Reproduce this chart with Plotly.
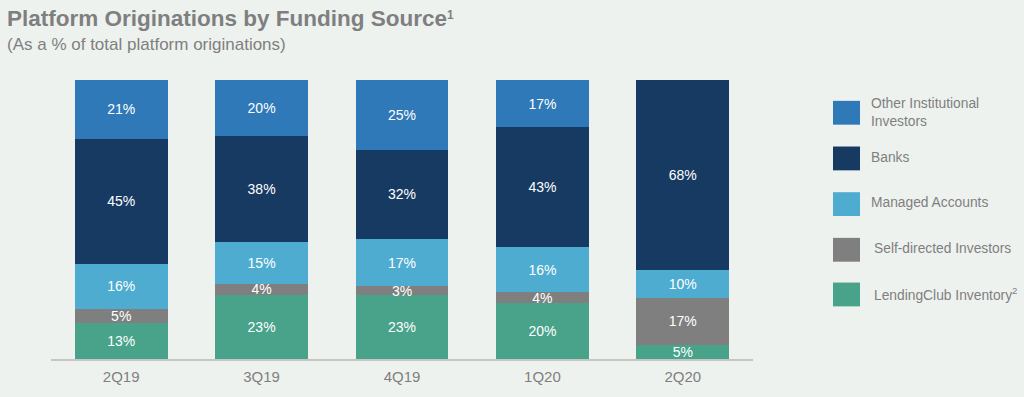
import plotly.graph_objects as go

categories = ["2Q19", "3Q19", "4Q19", "1Q20", "2Q20"]
lendingclub = [13, 23, 23, 20, 5]
self_directed = [5, 4, 3, 4, 17]
managed = [16, 15, 17, 16, 10]
banks = [45, 38, 32, 43, 68]
other_inst = [21, 20, 25, 17, None]

series_names = ["LendingClub Inventory", "Self-directed Investors", "Managed Accounts",
                "Banks", "Other Institutional Investors"]
series_values = [lendingclub, self_directed, managed, banks, other_inst]
colors = ["#48a38a", "#7f7f7f", "#4eacd0", "#173a62", "#3079b8"]

legend_labels = ["Other Institutional<br>Investors", "Banks", "Managed Accounts",
                 "Self-directed Investors", "LendingClub Inventory<sup>2</sup>"]
legend_colors = ["#3079b8", "#173a62", "#4eacd0", "#7f7f7f", "#48a38a"]

BG = "#eef2ef"
FONT = "Arial, Liberation Sans, sans-serif"
GRAY = "#7f7f7f"

W, H = 1024, 397
L, R, T, B = 51, 753, 80, 361


def px(x):
    return (x - L) / (R - L)


def py(y):
    return (B - y) / (B - T)


fig = go.Figure()
for name, vals, col in zip(series_names, series_values, colors):
    fig.add_trace(go.Bar(
        x=categories, y=vals, name=name,
        marker=dict(color=col, line=dict(width=0)),
        texttemplate="%{y}%", textposition="inside", insidetextanchor="middle",
        textangle=0, textfont=dict(color="white", size=14, family=FONT),
        showlegend=False, hoverinfo="skip",
    ))

shapes = []
annotations = []
# legend boxes
box_tops = [101, 147, 193, 239, 284]
text_y = [113, 158, 203, 250, 296]
text_x = [869, 869, 869, 872, 872]
for lab, col, bt, ty, tx in zip(legend_labels, legend_colors, box_tops, text_y, text_x):
    shapes.append(dict(type="rect", xref="paper", yref="paper",
                       x0=px(833), x1=px(860), y0=py(bt + 24), y1=py(bt),
                       fillcolor=col, line=dict(width=0)))
    annotations.append(dict(xref="paper", yref="paper", x=px(tx), y=py(ty),
                            xanchor="left", yanchor="middle", align="left",
                            text=lab, showarrow=False,
                            font=dict(size=13.8, color=GRAY, family=FONT)))

annotations.append(dict(xref="paper", yref="paper", x=px(5), y=py(18),
                        xanchor="left", yanchor="middle",
                        text="<b>Platform Originations by Funding Source<span style='font-size:17px'><sup>1</sup></span></b>",
                        showarrow=False, font=dict(size=22.5, color=GRAY, family=FONT)))
annotations.append(dict(xref="paper", yref="paper", x=px(5), y=py(44),
                        xanchor="left", yanchor="middle",
                        text="(As a % of total platform originations)",
                        showarrow=False, font=dict(size=17, color=GRAY, family=FONT)))

fig.update_layout(
    barmode="stack", bargap=0.34,
    width=W, height=H,
    margin=dict(l=L, r=W - R, t=T, b=H - B, pad=0),
    paper_bgcolor=BG, plot_bgcolor=BG,
    font=dict(family=FONT, color=GRAY),
    uniformtext=dict(minsize=14, mode="show"),
    shapes=shapes, annotations=annotations,
    xaxis=dict(showgrid=False, showline=True, linecolor="#c4c6c4", linewidth=1.5,
               ticks="", ticklabelstandoff=3,
               tickfont=dict(size=15, color=GRAY, family=FONT),
               zeroline=False, fixedrange=True),
    yaxis=dict(range=[0, 100], visible=False, showgrid=False, zeroline=False,
               fixedrange=True),
)

fig.write_html("out.html", config={"displayModeBar": False},
               post_script="document.body.style.margin='0px';document.body.style.overflow='hidden';")
